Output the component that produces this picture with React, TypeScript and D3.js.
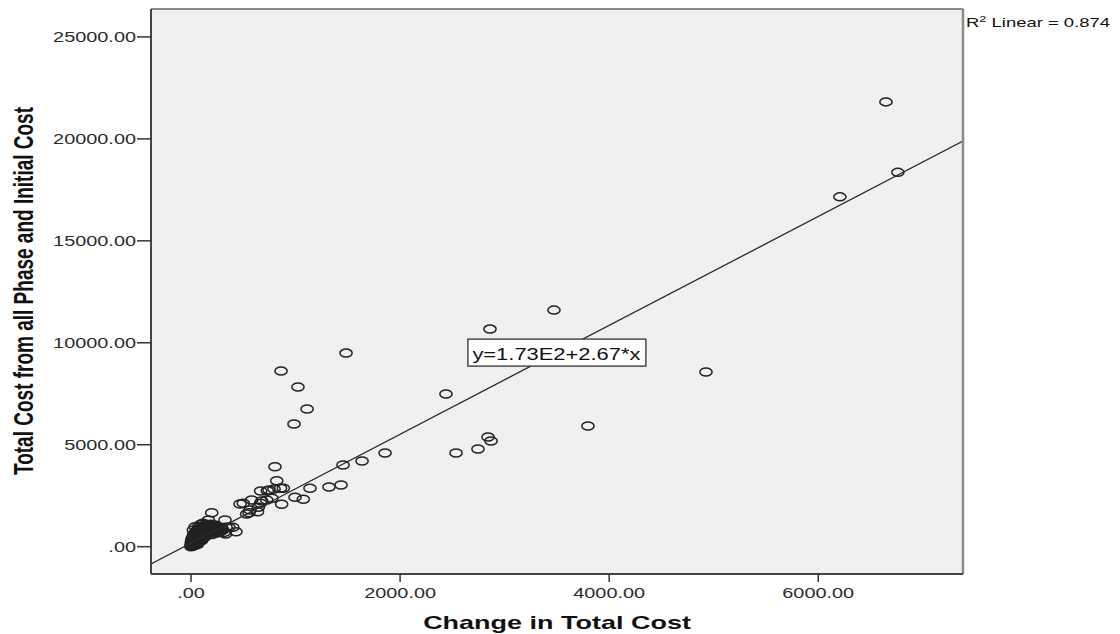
import React from "react";
import * as d3 from "d3";

// ---------- data ----------
const xTickValues = [0, 2000, 4000, 6000];
const xTickLabels = [".00", "2000.00", "4000.00", "6000.00"];
const yTickValues = [0, 5000, 10000, 15000, 20000, 25000];
const yTickLabels = [".00", "5000.00", "10000.00", "15000.00", "20000.00", "25000.00"];

const xTitle = "Change in Total Cost";
const yTitle = "Total Cost from all Phase and Initial Cost";
const fitIntercept = 173;
const fitSlope = 2.67;
const fitLabel = "y=1.73E2+2.67*x";
const rSquaredLabel = "0.874";

// dense cluster near the origin: [change in total cost, total cost]
const clusterPoints: [number, number][] = [
  [0, 0], [2, 30], [4, 80], [6, 15], [8, 120], [10, 50], [12, 160], [14, 90], [16, 220], [18, 40],
  [20, 140], [22, 260], [24, 70], [26, 190], [28, 300], [30, 110], [32, 230], [34, 350], [36, 160],
  [38, 270], [40, 400], [42, 130], [44, 310], [46, 220], [48, 450], [50, 180], [52, 360], [54, 280],
  [56, 500], [58, 230], [60, 420], [62, 330], [64, 560], [66, 260], [68, 470], [70, 380], [72, 620],
  [74, 300], [76, 520], [78, 430], [80, 680], [82, 350], [84, 580], [86, 470], [88, 740], [90, 400],
  [94, 640], [98, 520], [102, 800], [106, 450], [110, 700], [114, 580], [118, 860], [122, 500],
  [126, 760], [130, 640], [134, 920], [138, 560], [142, 820], [146, 700], [150, 980], [155, 620],
  [160, 880], [165, 760], [170, 1040], [176, 680], [182, 940], [188, 820], [195, 720], [202, 1000],
  [210, 860], [218, 760], [226, 1060], [234, 900], [242, 800], [250, 680], [260, 960], [270, 840],
  [280, 740], [292, 900], [305, 820], [318, 700], [330, 620], [22, 818], [25, 600], [45, 700],
  [60, 820], [40, 980], [75, 1000], [95, 1100], [115, 1150],
  [1, 100], [3, 200], [5, 260], [7, 330], [9, 20], [11, 380], [13, 240], [15, 440], [17, 120],
  [19, 330], [21, 480], [23, 380], [27, 540], [29, 420], [31, 60], [33, 600], [35, 480], [37, 280],
  [39, 660], [41, 540], [43, 200], [47, 720], [49, 600], [51, 380], [53, 760], [57, 640], [59, 100],
  [63, 700], [67, 560], [71, 780], [73, 200], [77, 840], [79, 620], [83, 900], [87, 700], [91, 580],
  [93, 860], [97, 760], [101, 300], [105, 920], [109, 840], [113, 400], [117, 980], [121, 700],
  [125, 1020], [129, 880], [133, 480], [137, 1060], [141, 600], [149, 860], [158, 1080], [168, 940],
  [178, 860], [190, 1100], [200, 600], [215, 960], [230, 660], [245, 980], [265, 720], [285, 880],
];

// scattered cases
const scatterPoints: [number, number][] = [
  [166, 1309], [198, 1667], [325, 1309], [335, 951], [362, 951], [399, 951], [430, 735],
  [469, 2093], [500, 2127], [532, 1603], [555, 1667], [564, 1799], [580, 2289], [636, 1716],
  [644, 1931], [664, 2127], [666, 2730], [676, 2240], [724, 2289], [730, 2745], [746, 2779],
  [774, 2372], [794, 2828], [803, 3922], [820, 3235], [856, 2862], [867, 2078], [883, 2862],
  [995, 2421], [1074, 2323], [1138, 2862], [1320, 2927], [1435, 3025], [1454, 4005], [1636, 4201],
  [1856, 4593], [2535, 4593], [2745, 4789], [2841, 5377], [2870, 5181], [3797, 5917], [2439, 7485],
  [985, 6015], [1110, 6750], [1023, 7829], [861, 8613], [4926, 8565], [1483, 9495], [2860, 10672],
  [3472, 11603], [6207, 17157], [6762, 18358], [6648, 21814],
];

const labelAtX = 3500;

// ---------- layout ----------
const W = 1120;
const H = 634;
const plot = { left: 151, right: 963, top: 9, bottom: 574 };
const STRETCH = 1.42;
const FONT = "'Liberation Sans', Arial, Helvetica, sans-serif";

export default function App() {
  const x = d3.scaleLinear().domain([-383, 7385]).range([plot.left, plot.right]);
  const y = d3.scaleLinear().domain([-1340, 26370]).range([plot.bottom, plot.top]);

  const [dx0, dx1] = x.domain();
  const fitLine = d3
    .line<number>()
    .x((d) => x(d))
    .y((d) => y(fitIntercept + fitSlope * d));

  const allPoints = [...clusterPoints, ...scatterPoints];

  const lblX = x(labelAtX);
  const lblY = y(fitIntercept + fitSlope * labelAtX);
  const boxW = 178;
  const boxH = 27;

  return (
    <svg
      width={W}
      height={H}
      style={{ position: "absolute", left: 0, top: 0, background: "#fff" }}
      fontFamily={FONT}
    >
      <defs>
        <clipPath id="plotClip">
          <rect x={plot.left} y={plot.top} width={plot.right - plot.left} height={plot.bottom - plot.top} />
        </clipPath>
      </defs>
      <rect x={0} y={0} width={W} height={H} fill="#fff" />
      <rect
        x={plot.left}
        y={plot.top}
        width={plot.right - plot.left}
        height={plot.bottom - plot.top}
        fill="#F0F0F0"
      />

      <g clipPath="url(#plotClip)">
        {allPoints.map(([px, py], i) => (
          <ellipse
            key={i}
            cx={x(px)}
            cy={y(py)}
            rx={6.1}
            ry={4.0}
            fill="none"
            stroke="#222"
            strokeWidth={1.5}
          />
        ))}
        <path d={fitLine([dx0, dx1]) || ""} fill="none" stroke="#2a2a2a" strokeWidth={1.3} />
      </g>

      {/* frame */}
      <line x1={plot.left} y1={plot.top} x2={plot.right} y2={plot.top} stroke="#8a8a8a" strokeWidth={2} />
      <line x1={plot.right} y1={plot.top} x2={plot.right} y2={plot.bottom} stroke="#8a8a8a" strokeWidth={2.5} />
      <line x1={plot.left} y1={plot.top} x2={plot.left} y2={plot.bottom} stroke="#444" strokeWidth={2} />
      <line x1={plot.left} y1={plot.bottom} x2={plot.right} y2={plot.bottom} stroke="#444" strokeWidth={2} />

      {/* y axis */}
      {yTickValues.map((v, i) => (
        <g key={"y" + i}>
          <line x1={plot.left - 14} x2={plot.left} y1={y(v)} y2={y(v)} stroke="#333" strokeWidth={1.5} />
          <text
            transform={`translate(${plot.left - 15},${y(v) + 5.5}) scale(${STRETCH},1)`}
            textAnchor="end"
            fontSize={14}
            fill="#2b2b2b"
          >
            {yTickLabels[i]}
          </text>
        </g>
      ))}

      {/* x axis */}
      {xTickValues.map((v, i) => (
        <g key={"x" + i}>
          <line x1={x(v)} x2={x(v)} y1={plot.bottom} y2={plot.bottom + 8} stroke="#333" strokeWidth={1.5} />
          <text
            transform={`translate(${x(v)},${597.5}) scale(${STRETCH},1)`}
            textAnchor="middle"
            fontSize={14}
            fill="#2b2b2b"
          >
            {xTickLabels[i]}
          </text>
        </g>
      ))}

      {/* titles */}
      <text
        transform={`translate(${(plot.left + plot.right) / 2},629) scale(${STRETCH},1)`}
        textAnchor="middle"
        fontSize={19}
        fontWeight="bold"
        fill="#111"
      >
        {xTitle}
      </text>
      <text
        transform={`translate(33,291) scale(${STRETCH},1) rotate(-90)`}
        textAnchor="middle"
        fontSize={19}
        fontWeight="bold"
        fill="#111"
      >
        {yTitle}
      </text>

      {/* fit label */}
      <rect
        x={lblX - boxW / 2}
        y={lblY - boxH / 2}
        width={boxW}
        height={boxH}
        fill="#fff"
        stroke="#333"
        strokeWidth={1.3}
      />
      <text
        x={lblX - boxW / 2 + 4.5}
        y={lblY + 7.5}
        fontSize={17}
        fill="#111"
        textLength={168}
        lengthAdjust="spacingAndGlyphs"
      >
        {fitLabel}
      </text>

      {/* R squared */}
      <text transform={`translate(966,27) scale(${STRETCH},1)`} fontSize={13} fill="#111">
        R
        <tspan fontSize={9} dy={-5}>2</tspan>
        <tspan dy={5}>{" Linear = " + rSquaredLabel}</tspan>
      </text>
    </svg>
  );
}
